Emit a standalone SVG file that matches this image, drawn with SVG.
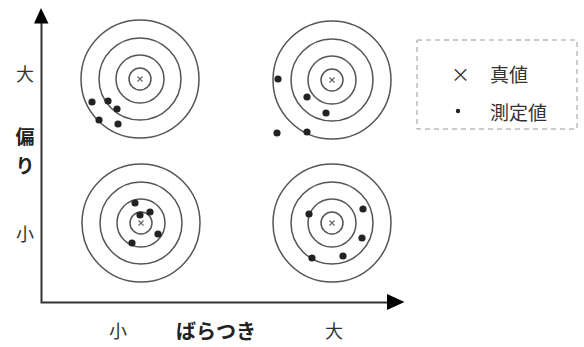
<svg xmlns="http://www.w3.org/2000/svg" width="584" height="347" viewBox="0 0 584 347">
<defs>
<style>
.ring{fill:none;stroke:#555;stroke-width:1.5}
.cx{stroke:#666;stroke-width:1.2}
.dot{fill:#222}
.axis{stroke:#333;stroke-width:2;fill:none}
.lbl{font-family:"Noto Sans CJK JP","Noto Sans",sans-serif;font-size:18px;fill:#333;text-anchor:middle;dominant-baseline:central}
.bold{font-weight:bold;fill:#222;font-size:19px}
.wide{font-size:20px}
.leg{font-family:"Noto Sans CJK JP","Noto Sans",sans-serif;font-size:19px;fill:#333;dominant-baseline:central}
</style>
<g id="target">
<circle class="ring" r="59"/>
<circle class="ring" r="41"/>
<circle class="ring" r="24"/>
<circle class="ring" r="11"/>
<path class="cx" d="M-2.5,-2.5L2.5,2.5M2.5,-2.5L-2.5,2.5"/>
</g>
</defs>
<rect width="584" height="347" fill="#fff"/>
<g id="target-tl">
<use href="#target" x="140" y="79"/>
<circle class="dot" cx="92" cy="102" r="3.6"/>
<circle class="dot" cx="108" cy="101" r="3.6"/>
<circle class="dot" cx="117" cy="109" r="3.6"/>
<circle class="dot" cx="99" cy="120" r="3.6"/>
<circle class="dot" cx="118" cy="124" r="3.6"/>
</g>
<g id="target-tr">
<use href="#target" x="332" y="80"/>
<circle class="dot" cx="278" cy="79" r="3.6"/>
<circle class="dot" cx="307" cy="97" r="3.6"/>
<circle class="dot" cx="326" cy="113" r="3.6"/>
<circle class="dot" cx="277" cy="133" r="3.6"/>
<circle class="dot" cx="307" cy="132" r="3.6"/>
</g>
<g id="target-bl">
<use href="#target" x="141" y="223"/>
<circle class="dot" cx="135" cy="203" r="3.6"/>
<circle class="dot" cx="140" cy="215" r="3.6"/>
<circle class="dot" cx="150" cy="212" r="3.6"/>
<circle class="dot" cx="158" cy="234" r="3.6"/>
<circle class="dot" cx="132" cy="243" r="3.6"/>
</g>
<g id="target-br">
<use href="#target" x="332" y="223"/>
<circle class="dot" cx="309" cy="214" r="3.6"/>
<circle class="dot" cx="363" cy="209" r="3.6"/>
<circle class="dot" cx="362" cy="238" r="3.6"/>
<circle class="dot" cx="312" cy="258" r="3.6"/>
<circle class="dot" cx="343" cy="256" r="3.6"/>
</g>
<g id="axes">
<path class="axis" d="M41.5,22V302.5H389"/>
<polygon points="41,8 34,23.5 48.5,23.5" fill="#000"/>
<polygon points="404.5,302 387,294 387,310" fill="#000"/>
</g>
<g id="axis-labels">
<text class="lbl" x="25" y="73">大</text>
<text class="lbl bold" x="25" y="135">偏</text>
<text class="lbl bold" x="25" y="164">り</text>
<text class="lbl" x="25" y="233">小</text>
<text class="lbl" x="118" y="330">小</text>
<text class="lbl bold wide" x="216" y="330">ばらつき</text>
<text class="lbl" x="334" y="330">大</text>
</g>
<g id="legend">
<rect x="417" y="40" width="160" height="89" fill="none" stroke="#999" stroke-width="1" stroke-dasharray="5,4"/>
<text class="leg" x="451" y="73">×</text>
<text class="leg" x="490" y="73">真値</text>
<circle cx="458" cy="111" r="2.2" fill="#222"/>
<text class="leg" x="490" y="111">測定値</text>
</g>
</svg>
